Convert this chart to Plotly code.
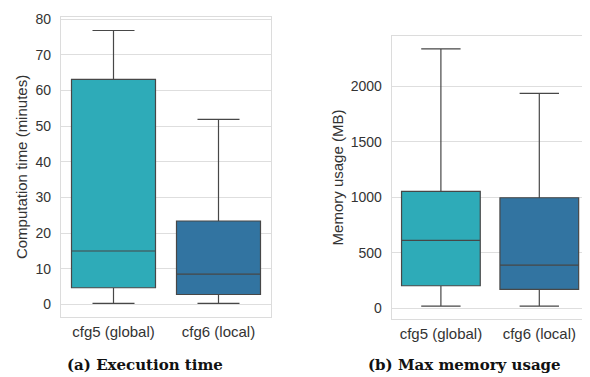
import plotly.graph_objects as go

categories = ["cfg5 (global)", "cfg6 (local)"]
colors = ["#2eabb8", "#3274a1"]

# Execution time (minutes)
time_min = [0.3, 0.3]
time_q1 = [4.7, 2.8]
time_med = [15.0, 8.5]
time_q3 = [63.1, 23.4]
time_max = [76.8, 51.9]

# Max memory usage (MB)
mem_min = [20, 20]
mem_q1 = [204, 171]
mem_med = [613, 389]
mem_q3 = [1053, 996]
mem_max = [2336, 1934]

# page body has an 8px margin; lay out in page pixels minus that offset
OFF = 8
W, H = 590 - OFF, 377 - OFF

def px(x):
    return (x - OFF) / W

def py(y):
    return 1 - (y - OFF) / H

fig = go.Figure()

def add_boxes(lo, q1, med, q3, hi, xa, ya):
    for i, c in enumerate(categories):
        fig.add_trace(go.Box(
            x=[c], q1=[q1[i]], median=[med[i]], q3=[q3[i]],
            lowerfence=[lo[i]], upperfence=[hi[i]],
            fillcolor=colors[i], line=dict(color="#474747", width=1.2),
            width=0.8, whiskerwidth=0.5, xaxis=xa, yaxis=ya,
            showlegend=False, hoverinfo="skip", boxpoints=False,
        ))

add_boxes(time_min, time_q1, time_med, time_q3, time_max, "x", "y")
add_boxes(mem_min, mem_q1, mem_med, mem_q3, mem_max, "x2", "y2")

fam = "Liberation Sans, Arial, sans-serif"
xfont = dict(family=fam, size=15, color="#333333")
yfont = dict(family=fam, size=14, color="#333333")
tfont = dict(family=fam, size=15, color="#333333")
common = dict(showline=True, mirror=True, linecolor="#dcdcdc", linewidth=1.2,
              zeroline=False, ticklabeloverflow="allow")
xcommon = dict(ticks="outside", ticklen=1, tickcolor="rgba(0,0,0,0)", tickfont=xfont,
               type="category", range=[-0.5, 1.5], showgrid=False, **common)
ycommon = dict(ticks="outside", ticklen=6, tickcolor="rgba(0,0,0,0)", tickfont=yfont,
               showgrid=True, gridcolor="#dedede", gridwidth=1, **common)
title_font = dict(family="DejaVu Serif, Liberation Serif, serif", size=15, color="#111111")

fig.update_layout(
    width=W, height=H, margin=dict(l=0, r=0, t=0, b=0),
    paper_bgcolor="white", plot_bgcolor="white",
    boxmode="overlay",
    xaxis=dict(domain=[px(61), px(271)], anchor="y", **xcommon),
    yaxis=dict(domain=[py(316), py(11)], anchor="x", range=[-3.5, 80.6],
               tickvals=[0, 10, 20, 30, 40, 50, 60, 70, 80],
               title=dict(text="Computation time (minutes)", font=tfont, standoff=4),
               **ycommon),
    xaxis2=dict(domain=[px(391.7), px(588.5)], anchor="y2", **xcommon),
    yaxis2=dict(domain=[py(317.7), py(30.7)], anchor="x2", range=[-92, 2448],
                tickvals=[0, 500, 1000, 1500, 2000],
                title=dict(text="Memory usage (MB)", font=tfont, standoff=3),
                **ycommon),
    annotations=[
        dict(text="<b>(a) Execution time</b>", x=px(145), y=py(365),
             xref="paper", yref="paper", showarrow=False, xanchor="center", yanchor="middle",
             font=title_font),
        dict(text="<b>(b) Max memory usage</b>", x=px(464), y=py(365),
             xref="paper", yref="paper", showarrow=False, xanchor="center", yanchor="middle",
             font=title_font),
    ],
)

fig.write_html("out.html")
